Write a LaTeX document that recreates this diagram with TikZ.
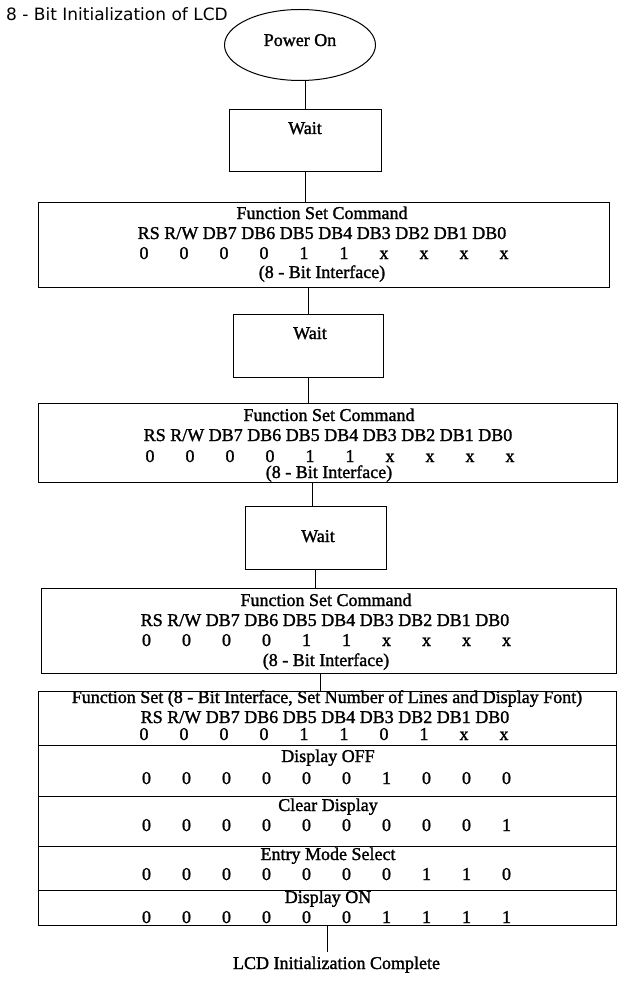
\documentclass[tikz,border=0pt]{standalone}
\usepackage{fontspec}
\setmainfont{Liberation Serif}[BoldFont=Liberation Serif, BoldFeatures={FakeBold=1.5}]
\newfontfamily\headfont{DejaVu Sans}
\usetikzlibrary{positioning, shapes.geometric, matrix}

\tikzset{
  txt/.style={inner sep=0, text height=12pt, text depth=0pt, font=\fontsize{18}{20}\bfseries},
  frame/.style={draw, rectangle, line width=1pt, inner sep=0, outer sep=0},
  bits/.style={matrix of nodes, inner sep=0, column sep=0pt, ampersand replacement=\&, nodes={txt, minimum width=40pt}},
  wire/.style={line width=1pt}
}

\begin{document}
\begin{tikzpicture}[x=1pt, y=-1pt]
  \useasboundingbox (0,0) rectangle (640,1000);
  \node[anchor=west, inner sep=0, font={\fontsize{17}{20}\headfont}] (title) at (6,14) {8 - Bit Initialization of LCD};

  \node[draw, ellipse, line width=1pt, minimum width=151pt, minimum height=71pt, inner sep=0] (power) at (300,45) {};
  \node[txt] (powertext) at (300,40) {Power On};

  % first wait and function set
  \node[frame, minimum width=152pt, minimum height=62pt] (wait1) at (305,141) {};
  \node[txt] (wait1text) at (305,128) {Wait};
  \node[frame, minimum width=571pt, minimum height=84pt] (fsc1) at (323.5,245) {};
  \node[txt] (fsc1title) at (322,213) {Function Set Command};
  \node[txt] (fsc1head) at (322,233) {RS R/W DB7 DB6 DB5 DB4 DB3 DB2 DB1 DB0};
  \matrix (fsc1bits) [bits] at (324,253) {
    0 \& 0 \& 0 \& 0 \& 1 \& 1 \& x \& x \& x \& x \\
  };
  \node[txt] (fsc1foot) at (322,272) {(8 - Bit Interface)};

  % second wait and function set
  \node[frame, minimum width=150pt, minimum height=63pt] (wait2) at (308,345.5) {};
  \node[txt] (wait2text) at (310,333) {Wait};
  \node[frame, minimum width=579pt, minimum height=79pt] (fsc2) at (327.5,442.5) {};
  \node[txt] (fsc2title) at (329,415) {Function Set Command};
  \node[txt] (fsc2head) at (328,435) {RS R/W DB7 DB6 DB5 DB4 DB3 DB2 DB1 DB0};
  \matrix (fsc2bits) [bits] at (330,456) {
    0 \& 0 \& 0 \& 0 \& 1 \& 1 \& x \& x \& x \& x \\
  };
  \node[txt] (fsc2foot) at (329,472) {(8 - Bit Interface)};

  % third wait and function set
  \node[frame, minimum width=141pt, minimum height=63pt] (wait3) at (315.5,537.5) {};
  \node[txt] (wait3text) at (318,536) {Wait};
  \node[frame, minimum width=575pt, minimum height=85pt] (fsc3) at (328.5,630.5) {};
  \node[txt] (fsc3title) at (326,600) {Function Set Command};
  \node[txt] (fsc3head) at (325,620) {RS R/W DB7 DB6 DB5 DB4 DB3 DB2 DB1 DB0};
  \matrix (fsc3bits) [bits] at (326.5,640) {
    0 \& 0 \& 0 \& 0 \& 1 \& 1 \& x \& x \& x \& x \\
  };
  \node[txt] (fsc3foot) at (326,660) {(8 - Bit Interface)};

  % command table
  \node[frame, minimum width=578pt, minimum height=54pt] (row1) at (327,718) {};
  \node[frame, minimum width=578pt, minimum height=51pt, below=0pt of row1] (row2) {};
  \node[frame, minimum width=578pt, minimum height=50pt, below=0pt of row2] (row3) {};
  \node[frame, minimum width=578pt, minimum height=44pt, below=0pt of row3] (row4) {};
  \node[frame, minimum width=578pt, minimum height=35pt, below=0pt of row4] (row5) {};

  \node[txt] (row1title) at (327,697) {Function Set (8 - Bit Interface, Set Number of Lines and Display Font)};
  \node[txt] (row1head) at (325,717) {RS R/W DB7 DB6 DB5 DB4 DB3 DB2 DB1 DB0};
  \matrix (row1bits) [bits] at (324,734) {
    0 \& 0 \& 0 \& 0 \& 1 \& 1 \& 0 \& 1 \& x \& x \\
  };
  \node[txt] (row2title) at (328,756) {Display OFF};
  \matrix (row2bits) [bits] at (326.5,778) {
    0 \& 0 \& 0 \& 0 \& 0 \& 0 \& 1 \& 0 \& 0 \& 0 \\
  };
  \node[txt] (row3title) at (328,805) {Clear Display};
  \matrix (row3bits) [bits] at (326.5,825) {
    0 \& 0 \& 0 \& 0 \& 0 \& 0 \& 0 \& 0 \& 0 \& 1 \\
  };
  \node[txt] (row4title) at (328,854) {Entry Mode Select};
  \matrix (row4bits) [bits] at (326.5,874) {
    0 \& 0 \& 0 \& 0 \& 0 \& 0 \& 0 \& 1 \& 1 \& 0 \\
  };
  \node[txt] (row5title) at (328,897) {Display ON};
  \matrix (row5bits) [bits] at (326.5,917) {
    0 \& 0 \& 0 \& 0 \& 0 \& 0 \& 1 \& 1 \& 1 \& 1 \\
  };

  \node[txt, inner ysep=5pt] (done) at (336.5,963) {LCD Initialization Complete};

  % connectors
  \draw[wire] (wait1.north |- power.south) -- (wait1.north);
  \draw[wire] (wait1.south) -- (wait1.south |- fsc1.north);
  \draw[wire] (wait2.north |- fsc1.south) -- (wait2.north);
  \draw[wire] (wait2.south) -- (wait2.south |- fsc2.north);
  \draw[wire] ([xshift=-3pt]wait3.north |- fsc2.south) -- ([xshift=-3pt]wait3.north);
  \draw[wire] (wait3.south) -- (wait3.south |- fsc3.north);
  \draw[wire] ([xshift=-8pt]fsc3.south) -- ([xshift=-8pt]fsc3.south |- row1.north);
  \draw[wire] (row5.south) -- (row5.south |- done.north);
\end{tikzpicture}
\end{document}
